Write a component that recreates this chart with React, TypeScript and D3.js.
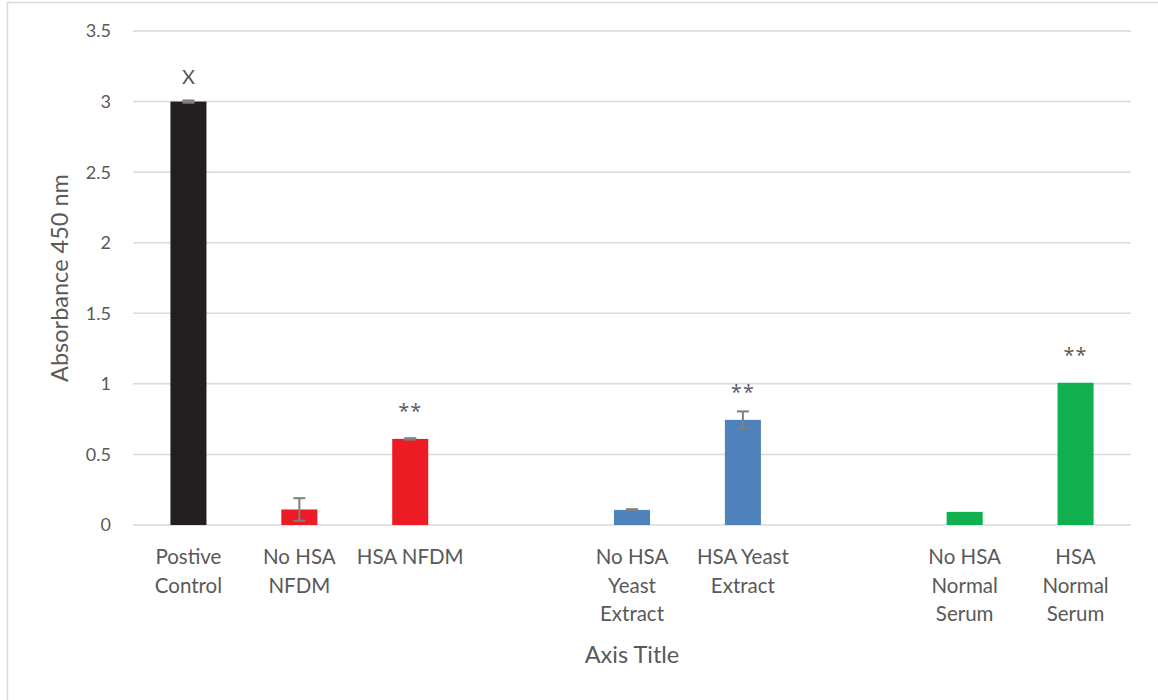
import React from "react";
import * as d3 from "d3";

const categories: string[][] = [
  ["Postive", "Control"],
  ["No HSA", "NFDM"],
  ["HSA NFDM"],
  [],
  ["No HSA", "Yeast", "Extract"],
  ["HSA Yeast", "Extract"],
  [],
  ["No HSA", "Normal", "Serum"],
  ["HSA", "Normal", "Serum"],
];
const values: (number | null)[] = [3.0, 0.11, 0.61, null, 0.107, 0.745, null, 0.093, 1.008];
const errors: (number | null)[] = [0.008, 0.08, 0.005, null, 0.005, 0.06, null, null, null];
const colors: string[] = ["#231f20", "#ed1c24", "#ed1c24", "", "#4f81bd", "#4f81bd", "", "#11b04f", "#11b04f"];
const marks: string[] = ["X", "", "**", "", "", "**", "", "", "**"];
const yTicks: number[] = [0, 0.5, 1, 1.5, 2, 2.5, 3, 3.5];
const yTitle = "Absorbance 450 nm";
const xTitle = "Axis Title";

const W = 1158;
const H = 700;
const FONT = "Lato, 'Open Sans', sans-serif";
const TXT = "#595959";

export default function App() {
  const x = d3
    .scaleBand<number>()
    .domain(categories.map((_, i) => i))
    .range([133, 1131])
    .paddingInner(0.675)
    .paddingOuter(0.3375);
  const y = d3.scaleLinear().domain([0, 3.5]).range([525, 31]);
  const bw = x.bandwidth();

  return (
    <svg
      width={W}
      height={H}
      style={{ position: "fixed", left: 0, top: 0, background: "#fff" }}
      fontFamily={FONT}
    >
      <rect x={0} y={0} width={W} height={H} fill="#fff" />
      <rect x={7.5} y={2.5} width={W + 50} height={H + 50} fill="none" stroke="#d9d9d9" strokeWidth={1.5} />
      {yTicks.map((t) => (
        <g key={t}>
          <line x1={133} x2={1131} y1={y(t)} y2={y(t)} stroke="#d9d9d9" strokeWidth={1.5} />
          <text x={111} y={y(t)} dy="0.36em" textAnchor="end" fontSize={18} fill={TXT}>
            {d3.format("")(t)}
          </text>
        </g>
      ))}
      {values.map((v, i) =>
        v == null ? null : (
          <rect key={i} x={x(i)!} y={y(v)} width={bw} height={y(0) - y(v)} fill={colors[i]} />
        )
      )}
      {values.map((v, i) => {
        const e = errors[i];
        if (v == null || e == null) return null;
        const cx = x(i)! + bw / 2;
        return (
          <g key={"e" + i} stroke="#7f7f7f" strokeWidth={2}>
            <line x1={cx} x2={cx} y1={y(v - e)} y2={y(v + e)} />
            <line x1={cx - 6} x2={cx + 6} y1={y(v - e)} y2={y(v - e)} />
            <line x1={cx - 6} x2={cx + 6} y1={y(v + e)} y2={y(v + e)} />
          </g>
        );
      })}
      {values.map((v, i) =>
        v == null || !marks[i] ? null : (
          <text
            key={"m" + i}
            x={x(i)! + bw / 2}
            y={y(v) - (marks[i] === "X" ? 18 : 21)}
            textAnchor="middle"
            fontSize={20}
            fontFamily={marks[i] === "X" ? FONT : "'Open Sans', sans-serif"}
            letterSpacing={marks[i] === "X" ? 0 : 1}
            fill={TXT}
          >
            {marks[i]}
          </text>
        )
      )}
      {categories.map((lines, i) => (
        <text key={"c" + i} textAnchor="middle" fontSize={20.5} fill={TXT}>
          {lines.map((l, j) => (
            <tspan key={j} x={x(i)! + bw / 2} y={564 + j * 28.6}>
              {l}
            </tspan>
          ))}
        </text>
      ))}
      <text x={632} y={663} textAnchor="middle" fontSize={23.5} fill={TXT}>
        {xTitle}
      </text>
      <text
        transform={`translate(68,${(y(0) + y(3.5)) / 2}) rotate(-90)`}
        textAnchor="middle"
        fontSize={23.5}
        fill={TXT}
      >
        {yTitle}
      </text>
    </svg>
  );
}
